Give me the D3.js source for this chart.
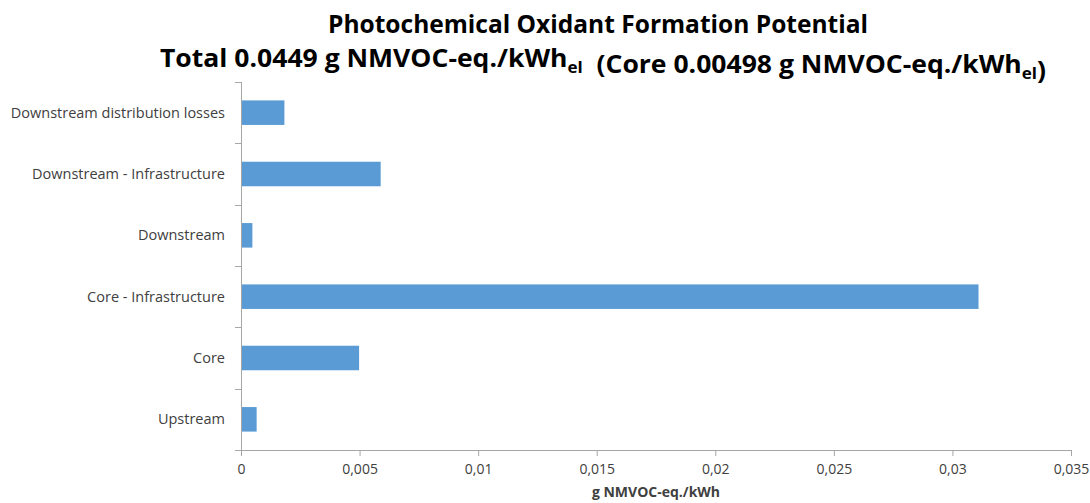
<!DOCTYPE html>
<html>
<head>
<meta charset="utf-8">
<script src="https://cdn.jsdelivr.net/npm/d3@7"></script>
<style>
  html, body { margin: 0; padding: 0; background: #fff; }
  svg { display: block; }
  text { font-family: "Open Sans", "Noto Sans", sans-serif; }
</style>
</head>
<body>
<svg id="chart" width="1090" height="503"></svg>
<script>
// Life-cycle stages, listed bottom to top
const categories = [
  "Upstream",
  "Core",
  "Core - Infrastructure",
  "Downstream",
  "Downstream - Infrastructure",
  "Downstream distribution losses"
];
// g NMVOC-eq./kWh per stage
const values = [0.00066, 0.00498, 0.0311, 0.00048, 0.00589, 0.00183];
const xTicks = [0, 0.005, 0.01, 0.015, 0.02, 0.025, 0.03, 0.035];
const xTickLabels = ["0", "0,005", "0,01", "0,015", "0,02", "0,025", "0,03", "0,035"];

const svg = d3.select("#chart");
const axisColor = "#A6A6A6";
const textColor = "#404040";

const plot = { left: 241, right: 1071, top: 82, bottom: 450 };

const x = d3.scaleLinear().domain([0, 0.035]).range([plot.left, plot.right]);
const y = d3.scaleBand()
  .domain(categories.slice().reverse())
  .range([plot.top, plot.bottom])
  .paddingInner(0.6)
  .paddingOuter(0.3);

// Bars
svg.append("g").selectAll("rect")
  .data(categories.map((c, i) => ({ c, v: values[i] })))
  .join("rect")
  .attr("x", x(0))
  .attr("y", d => y(d.c))
  .attr("width", d => x(d.v) - x(0))
  .attr("height", y.bandwidth())
  .attr("fill", "#5B9BD5");

// X axis
const xAxis = svg.append("g")
  .attr("transform", `translate(0,${plot.bottom})`)
  .call(d3.axisBottom(x).tickValues(xTicks)
    .tickFormat((d, i) => xTickLabels[i]).tickSize(6).tickPadding(8).tickSizeOuter(0));
xAxis.select(".domain").attr("stroke", axisColor).attr("d", `M${plot.left - 6},0.5H${plot.right}`);
xAxis.selectAll(".tick line").attr("stroke", axisColor);
xAxis.selectAll(".tick text")
  .attr("fill", textColor)
  .style("font-size", "14px")
  .attr("font-family", "'Open Sans', sans-serif");

// Y axis: tick marks sit on the category boundaries
const yAxisG = svg.append("g").attr("transform", `translate(${plot.left},0)`);
yAxisG.append("line")
  .attr("x1", 0.5).attr("x2", 0.5)
  .attr("y1", plot.top).attr("y2", plot.bottom)
  .attr("stroke", axisColor);
const step = (plot.bottom - plot.top) / categories.length;
yAxisG.selectAll("line.tick")
  .data(d3.range(categories.length))
  .join("line")
  .attr("class", "tick")
  .attr("x1", -6).attr("x2", 0)
  .attr("y1", i => Math.round(plot.top + i * step) + 0.5)
  .attr("y2", i => Math.round(plot.top + i * step) + 0.5)
  .attr("stroke", axisColor);

// Category labels
svg.append("g").selectAll("text")
  .data(categories)
  .join("text")
  .attr("x", 225)
  .attr("y", d => y(d) + y.bandwidth() / 2)
  .attr("dy", "0.35em")
  .attr("text-anchor", "end")
  .attr("fill", textColor)
  .style("font-size", "14.5px")
  .text(d => d);

// Axis title
svg.append("text")
  .attr("x", (plot.left + plot.right) / 2)
  .attr("y", 497)
  .attr("text-anchor", "middle")
  .attr("fill", textColor)
  .style("font-size", "14px")
  .style("font-weight", "bold")
  .text("g NMVOC-eq./kWh");

// Title
svg.append("text")
  .attr("x", 598)
  .attr("y", 33)
  .attr("text-anchor", "middle")
  .attr("fill", "#000")
  .attr("textLength", 540)
  .attr("lengthAdjust", "spacingAndGlyphs")
  .style("font-size", "25px")
  .style("font-weight", "bold")
  .text("Photochemical Oxidant Formation Potential");

const t2 = svg.append("text")
  .attr("x", 160)
  .attr("y", 67)
  .attr("fill", "#000")
  .style("font-size", "25px")
  .style("font-weight", "bold");
const parts = [
  ["Total 0.0449 g NMVOC-eq./kWh", false],
  ["el", true],
  ["\u00a0\u00a0(Core 0.00498 g NMVOC-eq./kWh", false],
  ["el", true],
  [")", false]
];
parts.forEach(([txt, sub]) => {
  t2.append("tspan")
    .attr("dy", sub ? 6 : 0)
    .style("font-size", sub ? "16px" : "25px")
    .text(txt);
  if (sub) t2.append("tspan").attr("dy", -6).text("");
});
// Squeeze line two to the condensed width of the title block
const w = t2.node().getComputedTextLength();
t2.attr("textLength", 886).attr("lengthAdjust", "spacingAndGlyphs");
</script>
</body>
</html>
